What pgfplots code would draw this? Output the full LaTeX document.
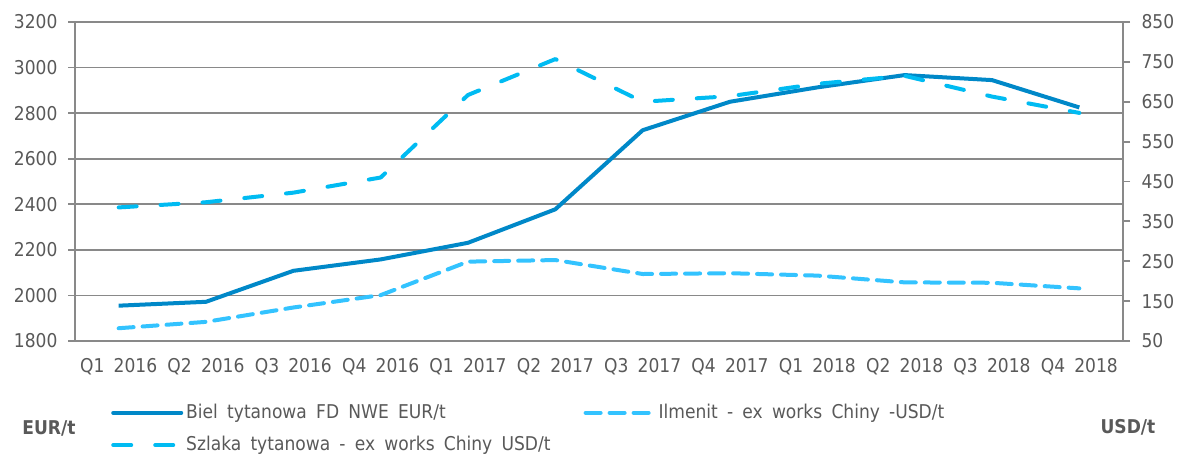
\documentclass[border=0pt]{standalone}
\usepackage{fontspec}
\setmainfont[WordSpace=1.7]{DejaVu Sans Condensed}
\usepackage{pgfplots}
\pgfplotsset{compat=1.18}
\definecolor{biel}{HTML}{0088C8}
\definecolor{szlaka}{HTML}{00BBF2}
\definecolor{ilm}{HTML}{33C3FF}
\definecolor{gridc}{HTML}{898989}
\definecolor{txt}{HTML}{595959}
\begin{document}
\fontsize{19bp}{23bp}\selectfont
\begin{tikzpicture}
\useasboundingbox (0,0) rectangle (1178bp,457bp);
\pgfplotsset{
  base/.style={
    scale only axis, width=1048bp, height=319bp,
    at={(75bp,116bp)}, anchor=south west,
    xmin=0, xmax=12,
    font=\fontsize{19bp}{23bp}\selectfont,
    tick label style={text=txt},
    /pgf/number format/assume math mode=true,
    /pgf/number format/1000 sep={},
    tick align=outside,
    tick style={gridc, line width=1.8bp},
    axis line style={gridc, line width=1.8bp},
  }
}
\begin{axis}[base,
  ymin=1800, ymax=3200,
  ytick={1800,2000,...,3200},
  ytick pos=left, xtick pos=bottom,
  major tick length=7bp,
  xtick={0.5,1.5,...,11.5},
  xticklabels={Q1 2016,Q2 2016,Q3 2016,Q4 2016,Q1 2017,Q2 2017,Q3 2017,Q4 2017,Q1 2018,Q2 2018,Q3 2018,Q4 2018},
  x tick style={draw=none},
  minor xtick={0,1,...,12},
  minor x tick style={gridc, line width=1.8bp},
  minor tick length=7bp,
  xticklabel style={yshift=-4bp},
  yticklabel style={xshift=-4bp},
  ymajorgrids,
  grid style={gridc, line width=1.8bp},
]
\addplot[biel, line width=4bp, line join=round] coordinates {
(0.5,1955) (1.5,1972) (2.5,2108) (3.5,2158) (4.5,2231) (5.5,2378)
(6.5,2725) (7.5,2850) (8.5,2913) (9.5,2967) (10.5,2945) (11.5,2825)};
\end{axis}
\begin{axis}[base,
  ymin=50, ymax=850,
  ytick={50,150,...,850},
  axis x line=none,
  axis y line*=right,
  ytick pos=right,
  major tick length=7bp,
  yticklabel style={xshift=5bp},
  legend columns=2,
  legend cell align=left,
  legend image code/.code={\draw[#1] (0bp,0bp) -- (68bp,0bp);},
  legend style={at={(axis description cs:0.0344,-0.188)}, anchor=north west,
    draw=none, fill=none, inner sep=0pt, row sep=9bp,
    font=\fontsize{19bp}{23bp}\selectfont,
    nodes={text=txt, inner sep=3bp},
    /tikz/every even column/.append style={column sep=30bp}},
]
\addlegendimage{biel, line width=4bp, line cap=round}
\addlegendentry{Biel tytanowa FD NWE EUR/t}
\addplot[ilm, line width=4bp, line cap=round, line join=round, dash pattern=on 15bp off 9bp] coordinates {
(0.5,82) (1.5,98) (2.5,134) (3.5,165) (4.5,249) (5.5,253)
(6.5,218) (7.5,220) (8.5,214) (9.5,197) (10.5,196) (11.5,182)};
\addlegendentry{Ilmenit - ex works Chiny -USD/t}
\addplot[szlaka, line width=4bp, line cap=round, line join=round, dash pattern=on 18bp off 24bp] coordinates {
(0.5,385) (1.5,398) (2.5,422) (3.5,460) (4.5,667) (5.5,757)
(6.5,650) (7.5,664) (8.5,695) (9.5,715) (10.5,663) (11.5,622)};
\addlegendentry{Szlaka tytanowa - ex works Chiny USD/t}
\end{axis}
\node[text=txt, font=\fontsize{19bp}{23bp}\selectfont\bfseries] at (49bp,29bp) {EUR/t};
\node[text=txt, font=\fontsize{19bp}{23bp}\selectfont\bfseries] at (1128bp,30bp) {USD/t};
\end{tikzpicture}
\end{document}
